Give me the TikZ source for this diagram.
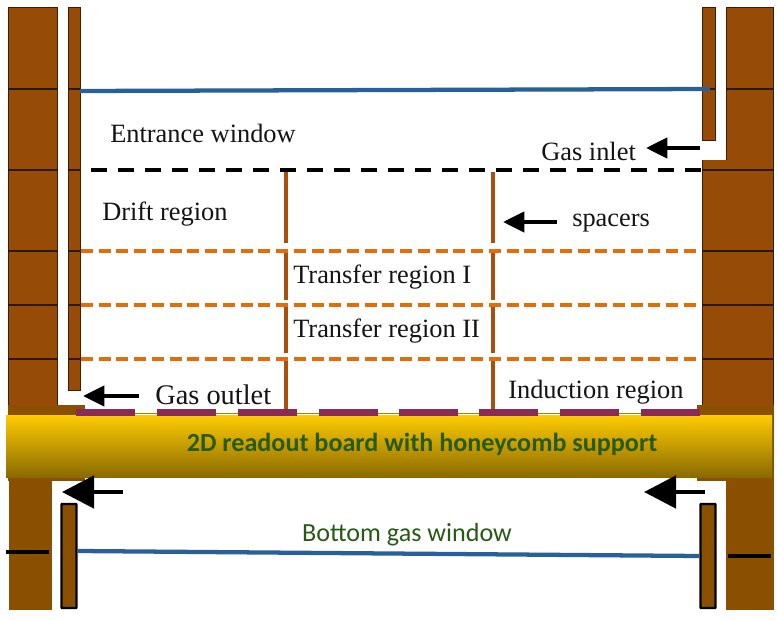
\documentclass[tikz,border=0pt]{standalone}
\usepackage{fontspec}
\setmainfont{Liberation Serif}
\newfontfamily\boardfont{Carlito}
\usetikzlibrary{arrows.meta}
\definecolor{wallc}{HTML}{964B06}
\definecolor{lowc}{HTML}{8A5000}
\definecolor{bluec}{HTML}{2A6099}
\definecolor{orangec}{HTML}{E46C0A}
\definecolor{spacerc}{HTML}{A9500F}
\definecolor{padc}{HTML}{8A2A57}
\definecolor{greentxt}{HTML}{285A14}
\definecolor{goldt}{HTML}{FFCC00}
\definecolor{goldb}{HTML}{8A6A00}
\tikzset{
  x=0.75pt,y=-0.75pt,
  wall/.style={fill=wallc,draw=black!60!wallc,line width=0.7pt},
  seam/.style={draw=black!70!wallc,line width=1pt},
  low/.style={fill=lowc,draw=none},
  bracket/.style={fill=lowc,draw=black,line width=1.8pt,rounded corners=0.5pt},
  window/.style={draw=bluec,line width=3.2pt},
  blackdash/.style={draw=black,line width=3pt,dash pattern=on 12pt off 8.25pt},
  orangedash/.style={draw=orangec,line width=3pt,dash pattern=on 9pt off 4.3pt},
  spacer/.style={draw=spacerc,line width=2.6pt},
  pad/.style={fill=padc,draw=none},
  lab/.style={font=\fontsize{19.8pt}{22pt}\selectfont,text=black!92,inner sep=0pt,anchor=west},
  flow/.style={draw=black,line width=3pt,-{Triangle[length=16pt,width=15pt]}},
  flowbig/.style={draw=black,line width=3.6pt,-{Triangle[length=24pt,width=24pt]}},
  tick/.style={draw=black,line width=3pt}
}
\begin{document}
\begin{tikzpicture}
\useasboundingbox (0,0) rectangle (778,620);
\fill[white] (0,0) rectangle (778,620);
% walls
\path[wall] (8,7) rectangle (57,405);
\path[wall] (68,7) rectangle (80,390);
\path[wall] (726,7) rectangle (773,160);
\path[wall] (702,7) rectangle (715,140);
\fill[wallc] (702,160) rectangle (773,405);
\draw[draw=black!60!wallc,line width=0.7pt] (702,160) -- (702,405);
\draw[draw=black!60!wallc,line width=0.7pt] (773,160) -- (773,405);
\foreach \yy in {89,170,251,305,359}{
  \draw[seam] (8,\yy) -- (57,\yy);
  \draw[seam] (68,\yy) -- (80,\yy);
}
\draw[seam] (702,89) -- (715,89);
\draw[seam] (726,89) -- (773,89);
\foreach \yy in {170,251,305,359}{\draw[seam] (702,\yy) -- (773,\yy);}
% lower structure
\path[low] (8,405) rectangle (85,481);
\path[low] (697,405) rectangle (774,481);
\path[low] (9,481) rectangle (52,610);
\path[low] (726,481) rectangle (774,610);
\node[bracket,minimum width=11.25pt,minimum height=78pt,inner sep=0pt] (brL) at (69,556) {};
\node[bracket,minimum width=11.25pt,minimum height=78pt,inner sep=0pt] (brR) at (708,556) {};
% board
\fill[top color=goldt,bottom color=goldb] (6,415) rectangle (772,477);
\node[font=\boardfont\bfseries\fontsize{19.6pt}{22pt}\selectfont,text=greentxt,inner sep=0pt] (board) at (422,444) {2D readout board with honeycomb support};
% pads
\draw[draw=olive!70!green,line width=1.2pt] (76,413.5) -- (698,413.5);
\foreach \xx in {76,157,238,319,399,479,560,641}{
  \fill[padc] (\xx,409) rectangle ++(58.5,7);
}
% windows
\coordinate (wa) at (80,91);
\coordinate (wb) at (710,89);
\draw[window] (wa) -- (wb);
\draw[window] (brL.east |- 0,551) -- (brR.west |- 0,556);
% meshes
\coordinate (ma) at (91,170);
\coordinate (mb) at (701,170);
\draw[blackdash] (ma) -- (mb);
% spacers
\foreach \xx in {286,493}{
  \draw[spacer] (\xx,172) -- (\xx,243);
  \draw[spacer] (\xx,252) -- (\xx,300);
  \draw[spacer] (\xx,305) -- (\xx,353);
  \draw[spacer] (\xx,360) -- (\xx,409);
}
\foreach \yy in {251,305,359}{\draw[orangedash] (81,\yy) -- (701,\yy);}
% labels
\node[lab] (entr) at (110,133.5) {Entrance window};
\node[lab] (inlet) at (541,151.5) {Gas inlet};
\node[lab] (drift) at (102,214.5) {Drift region};
\node[lab] (spac) at (572,223.5) {spacers};
\node[lab] (tr1) at (293,277.5) {Transfer region I};
\node[lab] (tr2) at (293,331.5) {Transfer region II};
\node[lab,font=\fontsize{21.3pt}{24pt}\selectfont] (outlet) at (155,395) {Gas outlet};
\node[lab] (ind) at (508,392.5) {Induction region};
\node[font=\boardfont\fontsize{19.6pt}{22pt}\selectfont,inner sep=0pt,text=greentxt] (bgw) at (407,535) {Bottom gas window};
% arrows
\coordinate (a1s) at (700,148); \coordinate (a1e) at (646,148);
\draw[flow] (a1s) -- (a1e);
\coordinate (a2s) at (557,222); \coordinate (a2e) at (503,222);
\draw[flow] (a2s) -- (a2e);
\coordinate (a3s) at (139,396); \coordinate (a3e) at (83,396);
\draw[flow] (a3s) -- (a3e);
\coordinate (a4s) at (123,492); \coordinate (a4e) at (62,492);
\draw[flowbig] (a4s) -- (a4e);
\coordinate (a5s) at (705,492); \coordinate (a5e) at (644,492);
\draw[flowbig] (a5s) -- (a5e);
% ticks
\coordinate (t1) at (6,552); \coordinate (t2) at (49,552);
\draw[tick] (t1) -- (t2);
\coordinate (t3) at (728,556); \coordinate (t4) at (771,556);
\draw[tick] (t3) -- (t4);
\end{tikzpicture}
\end{document}
